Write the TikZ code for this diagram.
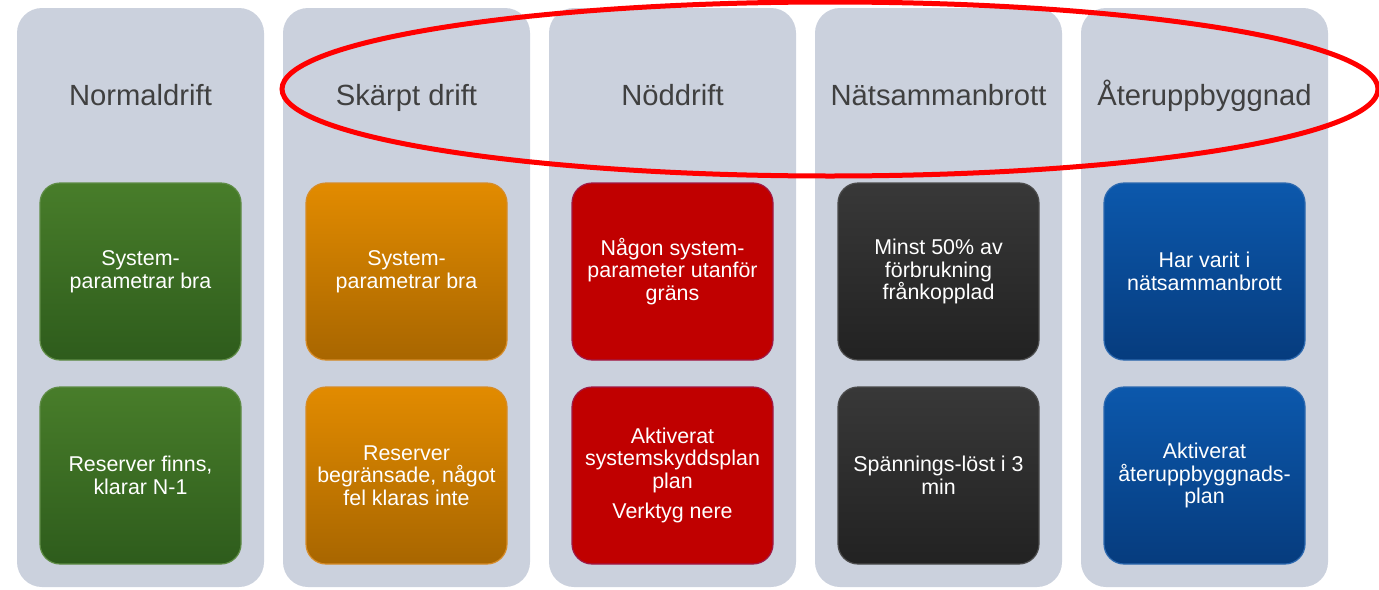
\documentclass[tikz,border=0pt]{standalone}
\usepackage{fontspec}
\setmainfont{Liberation Sans}
\usepackage{tikz}
\usepackage{xcolor}
\usetikzlibrary{positioning}
\definecolor{colGray}{RGB}{203,209,221}
\definecolor{titleGray}{RGB}{64,64,64}
\definecolor{greenTop}{RGB}{72,125,42}
\definecolor{greenBot}{RGB}{46,92,28}
\definecolor{greenLine}{RGB}{95,140,70}
\definecolor{orangeTop}{RGB}{226,139,0}
\definecolor{orangeBot}{RGB}{168,102,0}
\definecolor{orangeLine}{RGB}{214,140,40}
\definecolor{redFill}{RGB}{192,0,0}
\definecolor{redLine}{RGB}{160,25,70}
\definecolor{darkTop}{RGB}{56,56,56}
\definecolor{darkBot}{RGB}{34,34,34}
\definecolor{darkLine}{RGB}{75,75,75}
\definecolor{blueTop}{RGB}{12,88,172}
\definecolor{blueBot}{RGB}{6,60,126}
\definecolor{blueLine}{RGB}{45,105,175}
\tikzstyle{column} = [rectangle, rounded corners=12.5pt, minimum width=123.5pt, minimum height=289.5pt, fill=colGray, inner sep=0pt, outer sep=0pt]
\tikzstyle{heading} = [anchor=base, text=titleGray, font=\fontsize{14.6}{17}\selectfont, align=center]
\tikzstyle{statebox} = [rectangle, rounded corners=10pt, minimum width=100.5pt, minimum height=88.5pt, text=white, align=center, font=\fontsize{10.7}{11.3}\selectfont, line width=0.6pt, inner sep=0pt, outer sep=0pt]
\tikzstyle{greenbox} = [statebox, top color=greenTop, bottom color=greenBot, draw=greenLine]
\tikzstyle{orangebox} = [statebox, top color=orangeTop, bottom color=orangeBot, draw=orangeLine]
\tikzstyle{redbox} = [statebox, fill=redFill, draw=redLine]
\tikzstyle{darkbox} = [statebox, top color=darkTop, bottom color=darkBot, draw=darkLine]
\tikzstyle{bluebox} = [statebox, top color=blueTop, bottom color=blueBot, draw=blueLine]

\begin{document}
\begin{tikzpicture}[x=0.5pt, y=-0.5pt]
        \useasboundingbox (0,0) rectangle (1379,589);

        % columns
        \node (normalCol) [column] at (140.5,297.5) {};
        \node (skarptCol) [column, right=9.5pt of normalCol] {};
        \node (nodCol) [column, right=9.5pt of skarptCol] {};
        \node (natCol) [column, right=9.5pt of nodCol] {};
        \node (aterCol) [column, right=9.5pt of natCol] {};

        % headings
        \node (normalTitle) [heading] at ([yshift=-48.5pt]normalCol.north) {Normaldrift};
        \node (skarptTitle) [heading] at ([yshift=-48.5pt]skarptCol.north) {Skärpt drift};
        \node (nodTitle) [heading] at ([yshift=-48.5pt]nodCol.north) {Nöddrift};
        \node (natTitle) [heading] at ([yshift=-48.5pt]natCol.north) {Nätsammanbrott};
        \node (aterTitle) [heading] at ([yshift=-48.5pt]aterCol.north) {Återuppbyggnad};

        % state boxes
        \node (normalParam) [greenbox, below=87.5pt of normalCol.north] {System-\\parametrar bra};
        \node (normalReserve) [greenbox, below=13.5pt of normalParam] {Reserver finns,\\klarar N-1};
        \node (skarptParam) [orangebox, below=87.5pt of skarptCol.north] {System-\\parametrar bra};
        \node (skarptReserve) [orangebox, below=13.5pt of skarptParam] {Reserver\\begränsade, något\\fel klaras inte};
        \node (nodParam) [redbox, below=87.5pt of nodCol.north] {Någon system-\\parameter utanför\\gräns};
        \node (nodPlan) [redbox, below=13.5pt of nodParam] {Aktiverat\\systemskyddsplan\\plan\\[3.8pt]Verktyg nere};
        \node (natLoad) [darkbox, below=87.5pt of natCol.north] {Minst 50\% av\\förbrukning\\frånkopplad};
        \node (natVoltage) [darkbox, below=13.5pt of natLoad] {Spännings-löst i 3\\min};
        \node (aterPrev) [bluebox, below=87.5pt of aterCol.north] {Har varit i\\nätsammanbrott};
        \node (aterPlan) [bluebox, below=13.5pt of aterPrev] {Aktiverat\\återuppbyggnads-\\plan};

        % highlight round the last four headings
        \draw [red, line width=2.5pt] (830,89) ellipse [x radius=274pt, y radius=43.5pt];
    \end{tikzpicture}
\end{document}
